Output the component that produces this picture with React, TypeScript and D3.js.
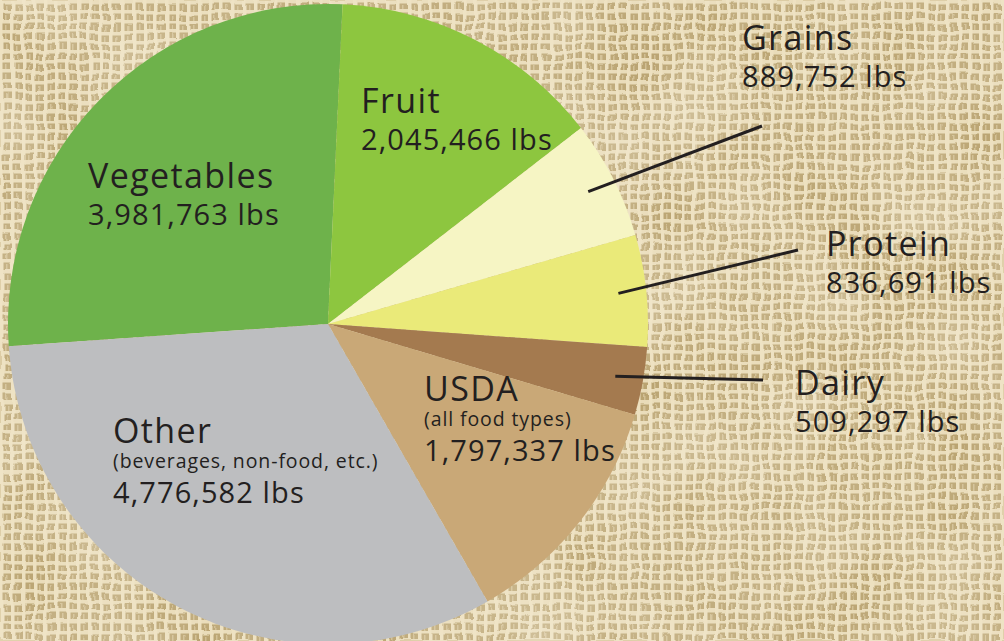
import React from "react";
import * as d3 from "d3";

const categories = ["Vegetables", "Fruit", "Grains", "Protein", "Dairy", "USDA", "Other"];
const values = [3981763, 2045466, 889752, 836691, 509297, 1797337, 4776582];
const subtitles = ["", "", "", "", "", "(all food types)", "(beverages, non-food, etc.)"];
const colors = ["#6eb24b", "#8dc63f", "#f6f5c4", "#eaea79", "#a47a4f", "#c9a877", "#bdbec0"];

const W = 1004;
const H = 641;
const cx = 328;
const cy = 324;
const R = 320;

type LabelPos = { x: number; y: number; lx?: number; ly?: number; inside: boolean };
const labelPos: LabelPos[] = [
  { x: 88, y: 188, inside: true },
  { x: 361, y: 113, inside: true },
  { x: 742, y: 50, lx: 762, ly: 126, inside: false },
  { x: 826, y: 256, lx: 798, ly: 250, inside: false },
  { x: 795, y: 395, lx: 763, ly: 380, inside: false },
  { x: 424, y: 401, inside: true },
  { x: 113, y: 443, inside: true },
];

const fmt = d3.format(",");

export default function App() {
  const pie = d3
    .pie<number>()
    .sort(null)
    .startAngle((-94 * Math.PI) / 180)
    .endAngle((266 * Math.PI) / 180)
    .value((d) => d);
  const arcs = pie(values);
  const arc = d3.arc<d3.PieArcDatum<number>>().innerRadius(0).outerRadius(R);
  const font = "'Open Sans', 'Noto Sans', sans-serif";

  return (
    <svg width={W} height={H} style={{ position: "absolute", left: 0, top: 0 }}>
      <defs>
        <pattern id="burlap" width="11" height="10" patternUnits="userSpaceOnUse">
          <rect width="11" height="10" fill="#b7a06c" />
          <rect x="0" y="0" width="11" height="3.5" fill="#e8dab6" />
          <rect x="0" y="0" width="3.5" height="10" fill="#ecdfbd" />
          <rect x="6" y="5" width="1.5" height="5" fill="#d0bd90" />
        </pattern>
        <filter id="warp" x="0" y="0" width="100%" height="100%">
          <feTurbulence type="fractalNoise" baseFrequency="0.04" numOctaves="2" seed="3" result="t" />
          <feDisplacementMap in="SourceGraphic" in2="t" scale="7" xChannelSelector="R" yChannelSelector="G" />
        </filter>
        <filter id="noise">
          <feTurbulence type="fractalNoise" baseFrequency="0.012" numOctaves="2" seed="7" result="t" />
          <feColorMatrix
            in="t"
            type="matrix"
            values="0 0 0 0 0.94  0 0 0 0 0.89  0 0 0 0 0.76  0 0 0 0.5 -0.05"
          />
        </filter>
      </defs>
      <rect width={W} height={H} fill="#d8c69a" />
      <rect width={W} height={H} fill="url(#burlap)" filter="url(#warp)" />
      <rect width={W} height={H} filter="url(#noise)" />
      <g transform={`translate(${cx},${cy})`}>
        {arcs.map((a, i) => (
          <path key={categories[i]} d={arc(a) || ""} fill={colors[i]} />
        ))}
      </g>
      {arcs.map((a, i) => {
        const p = labelPos[i];
        if (p.inside || p.lx === undefined) return null;
        const mid = (a.startAngle + a.endAngle) / 2;
        const r0 = 292;
        const x0 = cx + r0 * Math.sin(mid);
        const y0 = cy - r0 * Math.cos(mid);
        return (
          <line
            key={"l" + i}
            x1={x0}
            y1={y0}
            x2={p.lx}
            y2={p.ly}
            stroke="#231f20"
            strokeWidth={3}
          />
        );
      })}
      {categories.map((c, i) => {
        const p = labelPos[i];
        const sub = subtitles[i];
        return (
          <g key={"t" + c} fill="#231f20" fontFamily={font}>
            <text x={p.x} y={p.y} fontSize={34} fontWeight={500} letterSpacing={1.4}>
              {c}
            </text>
            {sub ? (
              <text x={p.x} y={p.y + 25} fontSize={19.5} fontWeight={400} letterSpacing={0.9}>
                {sub}
              </text>
            ) : null}
            <text
              x={p.x}
              y={p.y + (sub ? 60 : 37)}
              fontSize={29}
              fontWeight={400}
              letterSpacing={1.1}
            >
              {fmt(values[i])} lbs
            </text>
          </g>
        );
      })}
    </svg>
  );
}
